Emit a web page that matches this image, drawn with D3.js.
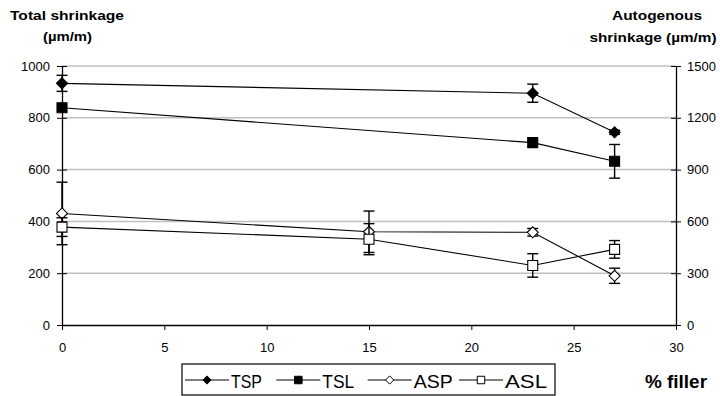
<!DOCTYPE html>
<html><head><meta charset="utf-8">
<script src="https://cdn.jsdelivr.net/npm/d3@7"></script>
<style>body{margin:0;background:#fff;}svg{display:block;font-family:"Liberation Sans",Arial,sans-serif;}</style>
</head><body><svg id="c" width="720" height="396"></svg>
<script>
const xFiller = [0, 15, 23, 27];
const xTicks = [0, 5, 10, 15, 20, 25, 30];
const leftTicks = [0, 200, 400, 600, 800, 1000];
const rightTicks = [0, 300, 600, 900, 1200, 1500];
// total shrinkage (left axis, µm/m)
const tspX = [0, 23, 27];
const tspY = [933, 895, 744];
const tspErr = [31, 35, 8];
const tslX = [0, 23, 27];
const tslY = [839, 704, 632];
const tslErr = [0, 0, 65];
// autogenous shrinkage (right axis, µm/m)
const aspX = [0, 15, 23, 27];
const aspY = [646, 540, 537, 285];
const aspErr = [181, 120, 22, 44];
const aslX = [0, 15, 23, 27];
const aslY = [567, 497, 345, 438];
const aslErr = [54, 90, 68, 51];
const seriesNames = ["TSP", "TSL", "ASP", "ASL"];

const tf = '"Liberation Sans",Arial,sans-serif';
const svg = d3.select("#c");
const L = 62, R = 676, T = 66, B = 325;
const x = d3.scaleLinear().domain([0, 30]).range([L, R]);
const yL = d3.scaleLinear().domain([0, 1000]).range([B, T]);
const yR = d3.scaleLinear().domain([0, 1500]).range([B, T]);

// gridlines
svg.append("g").selectAll("line").data(leftTicks.filter(d => d > 0)).join("line")
  .attr("x1", L).attr("x2", R).attr("y1", d => yL(d)).attr("y2", d => yL(d))
  .attr("stroke", "#c0c0c0").attr("stroke-width", 1.5);

// axes
const fmt = d3.format("d");
const axL = svg.append("g").attr("transform", `translate(${L},0)`)
  .call(d3.axisLeft(yL).tickValues(leftTicks).tickFormat(fmt).tickSizeInner(5).tickSizeOuter(0).tickPadding(7));
const axR = svg.append("g").attr("transform", `translate(${R},0)`)
  .call(d3.axisRight(yR).tickValues(rightTicks).tickFormat(fmt).tickSizeInner(5).tickSizeOuter(0).tickPadding(6));
const axB = svg.append("g").attr("transform", `translate(0,${B})`)
  .call(d3.axisBottom(x).tickValues(xTicks).tickFormat(fmt).tickSizeInner(5).tickSizeOuter(0).tickPadding(13));
[axL, axR, axB].forEach(a => {
  a.selectAll("path").attr("stroke", "#000").attr("stroke-width", 1.3);
  a.selectAll("line").attr("stroke", "#000").attr("stroke-width", 1);
  a.selectAll("text").attr("font-size", 13).attr("fill", "#000").attr("font-family", tf);
});
axL.selectAll(".tick line").attr("x1", 5).attr("x2", -5);
axR.selectAll(".tick line").attr("x1", -5).attr("x2", 5);

// marker shapes
function markerPath(shape, r) {
  if (shape === "diamond") return `M0,${-r}L${r},0L0,${r}L${-r},0Z`;
  return `M${-r},${-r}H${r}V${r}H${-r}Z`;
}
const series = [
  {name: "TSP", xs: tspX, ys: tspY, es: tspErr, y: yL, shape: "diamond", fill: "#000", r: 5.5},
  {name: "TSL", xs: tslX, ys: tslY, es: tslErr, y: yL, shape: "square", fill: "#000", r: 5},
  {name: "ASP", xs: aspX, ys: aspY, es: aspErr, y: yR, shape: "diamond", fill: "#fff", r: 5.5},
  {name: "ASL", xs: aslX, ys: aslY, es: aslErr, y: yR, shape: "square", fill: "#fff", r: 5},
];
series.forEach(s => {
  const pts = s.xs.map((v, i) => ({x: v, y: s.ys[i], e: s.es[i]}));
  const g = svg.append("g");
  g.append("path").datum(pts).attr("fill", "none").attr("stroke", "#000").attr("stroke-width", 1.1)
    .attr("d", d3.line().x(d => x(d.x)).y(d => s.y(d.y)));
  const eb = g.selectAll(".eb").data(pts.filter(d => d.e > 0)).join("g");
  eb.append("line").attr("x1", d => x(d.x)).attr("x2", d => x(d.x))
    .attr("y1", d => s.y(d.y - d.e)).attr("y2", d => s.y(d.y + d.e)).attr("stroke", "#000").attr("stroke-width", 1.4);
  [1, -1].forEach(sg => eb.append("line").attr("x1", d => x(d.x) - 5.5).attr("x2", d => x(d.x) + 5.5)
    .attr("y1", d => s.y(d.y + sg * d.e)).attr("y2", d => s.y(d.y + sg * d.e)).attr("stroke", "#000").attr("stroke-width", 1.4));
  g.selectAll(".m").data(pts).join("path")
    .attr("transform", d => `translate(${x(d.x)},${s.y(d.y)})`)
    .attr("d", markerPath(s.shape, s.r))
    .attr("fill", s.fill).attr("stroke", "#000").attr("stroke-width", 1.1);
});

// axis titles
function label(txt, xx, yy, anchor, len, size) {
  const t = svg.append("text").attr("x", xx).attr("y", yy).attr("text-anchor", anchor)
    .attr("font-size", size || 13).attr("font-weight", "bold").attr("font-family", tf).text(txt);
  if (len) t.attr("textLength", len).attr("lengthAdjust", "spacingAndGlyphs");
  return t;
}
label("Total shrinkage", 10, 20, "start", 114);
label("(µm/m)", 43, 41, "start", 49);
label("Autogenous", 657, 20, "middle", 90);
label("shrinkage (µm/m)", 653, 42, "middle", 127);
label("% filler", 645, 388, "start", 62, 19);

// legend
const lg = svg.append("g");
lg.append("rect").attr("x", 182).attr("y", 364).attr("width", 373).attr("height", 31)
  .attr("fill", "#fff").attr("stroke", "#000").attr("stroke-width", 1.2);
const lx = d3.scalePoint().domain(seriesNames).range([207, 481]);
const legendTextW = {TSP: 31, TSL: 32, ASP: 39, ASL: 42};
series.forEach(s => {
  const cx = lx(s.name), cy = 380;
  lg.append("line").attr("x1", cx - 22).attr("x2", cx + 22).attr("y1", cy).attr("y2", cy).attr("stroke", "#000").attr("stroke-width", 1.1);
  lg.append("path").attr("transform", `translate(${cx},${cy})`)
    .attr("d", markerPath(s.shape, s.r * 0.75))
    .attr("fill", s.fill).attr("stroke", "#000").attr("stroke-width", 1);
  lg.append("text").attr("x", cx + 24).attr("y", cy + 7.5).attr("font-size", 19).attr("font-family", tf)
    .attr("textLength", legendTextW[s.name]).attr("lengthAdjust", "spacingAndGlyphs").text(s.name);
});
</script></body></html>
